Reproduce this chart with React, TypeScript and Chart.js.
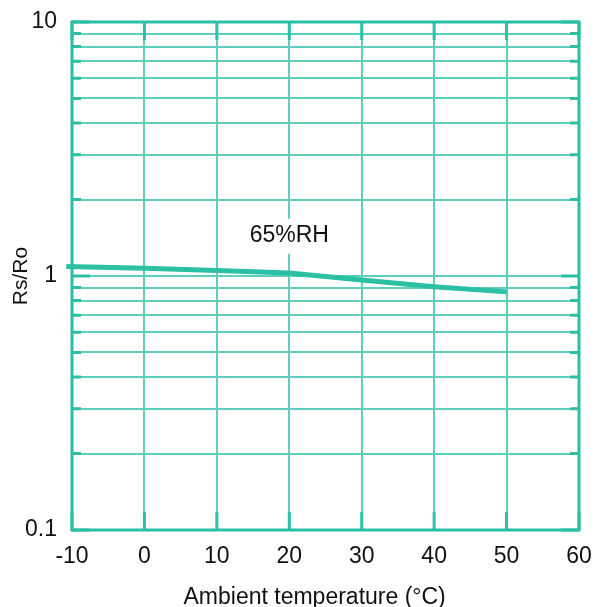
import React, { useEffect, useRef } from "react";
import { Chart, registerables } from "chart.js";

Chart.register(...registerables);

// ---- data ----
const temperatures = [-10.8, 0, 10, 20, 30, 40, 50];
const rsRo = [1.09, 1.072, 1.05, 1.028, 0.964, 0.908, 0.866];
const xTickValues = [-10, 0, 10, 20, 30, 40, 50, 60];
const yGridValues = [0.1, 0.2, 0.3, 0.4, 0.5, 0.6, 0.7, 0.8, 0.9, 1, 2, 3, 4, 5, 6, 7, 8, 9, 10];
const yLabelValues = [0.1, 1, 10];
const curveLabel = "65%RH";
const curveLabelAt = { x: 20, y: 1.44 };
const xTitle = "Ambient temperature (°C)";
const xTitleCenterValue = 23.5;
const yTitle = "Rs/Ro";

const BORDER = "#2bbfa4";
const GRID = "#5ecfbb";
const TEXT = "#111111";
const FONT = "'Liberation Sans', Arial, sans-serif";

const decorPlugin = {
  id: "decor",
  beforeDatasetsDraw(chart: any) {
    const { ctx, chartArea: a, scales } = chart;
    const x = scales.x;
    const y = scales.y;
    ctx.save();
    // curve label with white background
    ctx.font = `23px ${FONT}`;
    const px = x.getPixelForValue(curveLabelAt.x);
    const py = y.getPixelForValue(curveLabelAt.y);
    const w = ctx.measureText(curveLabel).width;
    ctx.fillStyle = "#ffffff";
    ctx.fillRect(px - w / 2 - 4, py - 17, w + 8, 35);
    ctx.fillStyle = TEXT;
    ctx.textAlign = "center";
    ctx.textBaseline = "middle";
    ctx.fillText(curveLabel, px, py);
    // frame
    ctx.strokeStyle = BORDER;
    ctx.lineWidth = 3;
    ctx.strokeRect(a.left, a.top, a.right - a.left, a.bottom - a.top);
    // x title
    ctx.font = `23px ${FONT}`;
    ctx.fillStyle = TEXT;
    ctx.textAlign = "center";
    ctx.textBaseline = "middle";
    ctx.fillText(xTitle, x.getPixelForValue(xTitleCenterValue), a.bottom + 68);
    ctx.restore();
  },
  afterDraw(chart: any) {
    const { ctx, chartArea: a, scales } = chart;
    const x = scales.x;
    const y = scales.y;
    ctx.save();
    ctx.strokeStyle = BORDER;
    ctx.lineWidth = 3;
    ctx.beginPath();
    yGridValues.forEach((v) => {
      const py = y.getPixelForValue(v);
      const len = yLabelValues.includes(v) ? 18 : 9;
      ctx.moveTo(a.left, py);
      ctx.lineTo(a.left + len, py);
      ctx.moveTo(a.right, py);
      ctx.lineTo(a.right - len, py);
    });
    xTickValues.forEach((v) => {
      const px = x.getPixelForValue(v);
      ctx.moveTo(px, a.bottom);
      ctx.lineTo(px, a.bottom - 18);
      ctx.moveTo(px, a.top);
      ctx.lineTo(px, a.top + 18);
    });
    ctx.stroke();
    ctx.restore();
  },
};

export default function App() {
  const canvasRef = useRef<HTMLCanvasElement | null>(null);

  useEffect(() => {
    if (!canvasRef.current) return;
    const chart = new Chart(canvasRef.current, {
      type: "line",
      data: {
        datasets: [
          {
            label: curveLabel,
            data: temperatures.map((t, i) => ({ x: t, y: rsRo[i] })),
            borderColor: BORDER,
            borderWidth: 5,
            pointRadius: 0,
            tension: 0,
            clip: false as any,
          },
        ],
      },
      options: {
        animation: false,
        responsive: false,
        devicePixelRatio: 1,
        layout: { padding: { top: 22, right: 18, left: 0, bottom: 0 } },
        plugins: {
          legend: { display: false },
          tooltip: { enabled: false },
        },
        scales: {
          x: {
            type: "linear",
            min: -10,
            max: 60,
            afterBuildTicks: (scale: any) => {
              scale.ticks = xTickValues.map((v) => ({ value: v }));
            },
            afterFit: (scale: any) => {
              scale.height = 77;
              scale.paddingLeft = 0;
              scale.paddingRight = 0;
            },
            grid: { color: GRID, lineWidth: 2, drawTicks: false },
            border: { display: false },
            ticks: {
              autoSkip: false,
              maxRotation: 0,
              padding: 13,
              color: TEXT,
              font: { family: FONT, size: 23 },
              callback: (v: any) => String(v),
            },
          },
          y: {
            type: "logarithmic",
            min: 0.1,
            max: 10,
            afterBuildTicks: (scale: any) => {
              scale.ticks = yGridValues.map((v) => ({ value: v }));
            },
            afterFit: (scale: any) => {
              scale.width = 72;
              scale.paddingTop = 0;
              scale.paddingBottom = 0;
            },
            grid: { color: GRID, lineWidth: 2, drawTicks: false },
            border: { display: false },
            ticks: {
              autoSkip: false,
              padding: 15,
              color: TEXT,
              font: { family: FONT, size: 23 },
              callback: (v: any) => (yLabelValues.includes(Number(v)) ? String(v) : ""),
            },
            title: {
              display: true,
              text: yTitle,
              color: TEXT,
              font: { family: FONT, size: 21 },
              padding: { top: 9, bottom: 0 },
            },
          },
        },
      },
      plugins: [decorPlugin],
    });
    return () => chart.destroy();
  }, []);

  return (
    <canvas
      ref={canvasRef}
      width={597}
      height={607}
      style={{ position: "absolute", left: 0, top: 0, width: 597, height: 607 }}
    />
  );
}
